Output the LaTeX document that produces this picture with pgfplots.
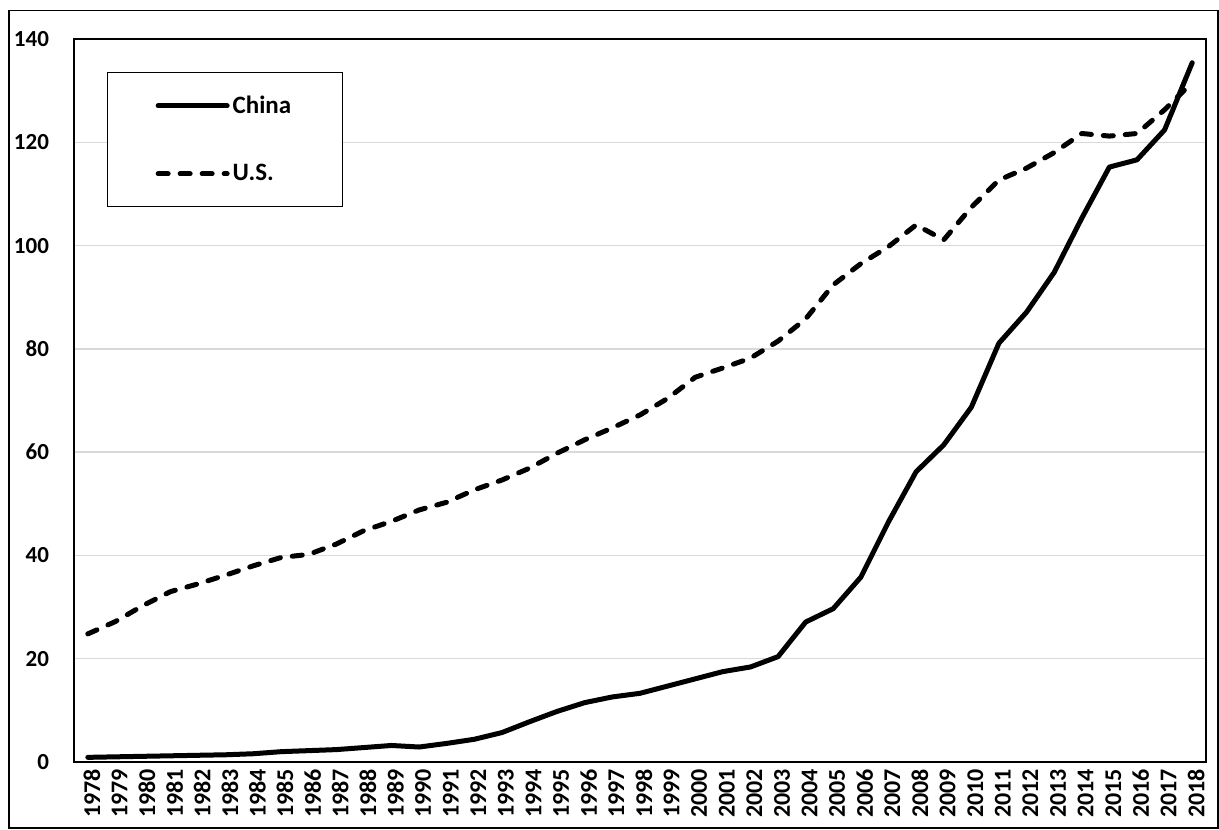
\documentclass[border=0pt]{standalone}
\usepackage{fontspec}
\setmainfont{Carlito}
\usepackage{pgfplots}
\pgfplotsset{compat=1.18}
\definecolor{gridgray}{HTML}{D9D9D9}
\begin{document}
\begin{tikzpicture}
\begin{axis}[
  scale only axis,
  width=566pt, height=361.5pt,
  xmin=1977.5, xmax=2018.5,
  ymin=0, ymax=140,
  ytick={0,20,...,140},
  xtick={1978,...,2018},
  /pgf/number format/assume math mode=true,
  /pgf/number format/1000 sep={},
  major tick length=0pt,
  ymajorgrids,
  grid style={gridgray, line width=0.75pt},
  axis line style={black, line width=0.8pt},
  yticklabel style={font=\fontsize{11.5}{14}\selectfont\bfseries, xshift=-9pt},
  xticklabel style={font=\fontsize{12}{13}\selectfont\bfseries, rotate=90, anchor=east, yshift=-2pt},
  legend style={at={(0.0292,0.9544)}, anchor=north west, draw=black, line width=0.6pt,
    font=\fontsize{12.5}{14}\selectfont\bfseries, inner xsep=24pt, inner ysep=9.5pt,
    row sep=20pt, nodes={inner xsep=1.5pt}},
  legend cell align=left,
  legend image code/.code={\draw[#1] (0pt,0pt) -- (34.5pt,0pt);},
]
\addplot[black, line width=2.5pt, line join=round, line cap=round] coordinates {
(1978,0.9) (1979,1.0) (1980,1.1) (1981,1.2) (1982,1.3) (1983,1.4) (1984,1.6)
(1985,2.0) (1986,2.2) (1987,2.4) (1988,2.8) (1989,3.2) (1990,2.9) (1991,3.6)
(1992,4.4) (1993,5.7) (1994,7.8) (1995,9.8) (1996,11.5) (1997,12.6) (1998,13.3)
(1999,14.7) (2000,16.1) (2001,17.5) (2002,18.4) (2003,20.4) (2004,27.1) (2005,29.7)
(2006,35.8) (2007,46.5) (2008,56.2) (2009,61.4) (2010,68.7) (2011,81.1) (2012,87.1)
(2013,94.8) (2014,105.3) (2015,115.2) (2016,116.6) (2017,122.4) (2018,135.4)
};
\addlegendentry{China}
\addplot[black, line width=2.5pt, line join=round, line cap=round, dash pattern=on 5pt off 6pt] coordinates {
(1978,24.8) (1979,27.2) (1980,30.3) (1981,33.0) (1982,34.5) (1983,36.2) (1984,38.0)
(1985,39.6) (1986,40.2) (1987,42.2) (1988,44.8) (1989,46.6) (1990,48.8) (1991,50.3)
(1992,52.7) (1993,54.6) (1994,56.9) (1995,59.8) (1996,62.4) (1997,64.7) (1998,67.2)
(1999,70.4) (2000,74.5) (2001,76.3) (2002,78.2) (2003,81.5) (2004,85.8) (2005,92.4)
(2006,96.5) (2007,99.8) (2008,104.0) (2009,101.1) (2010,107.4) (2011,112.7) (2012,115.0)
(2013,118.0) (2014,121.7) (2015,121.2) (2016,121.7) (2017,126.3) (2018,131.6)
};
\addlegendentry{U.S.}
\end{axis}
\draw[line width=0.7pt] ([xshift=-32.5pt,yshift=-33pt]current axis.south west) rectangle ([xshift=6pt,yshift=14.25pt]current axis.north east);
\path ([xshift=-37pt,yshift=-33.5pt]current axis.south west) rectangle ([xshift=6.5pt,yshift=19.5pt]current axis.north east);
\end{tikzpicture}
\end{document}
